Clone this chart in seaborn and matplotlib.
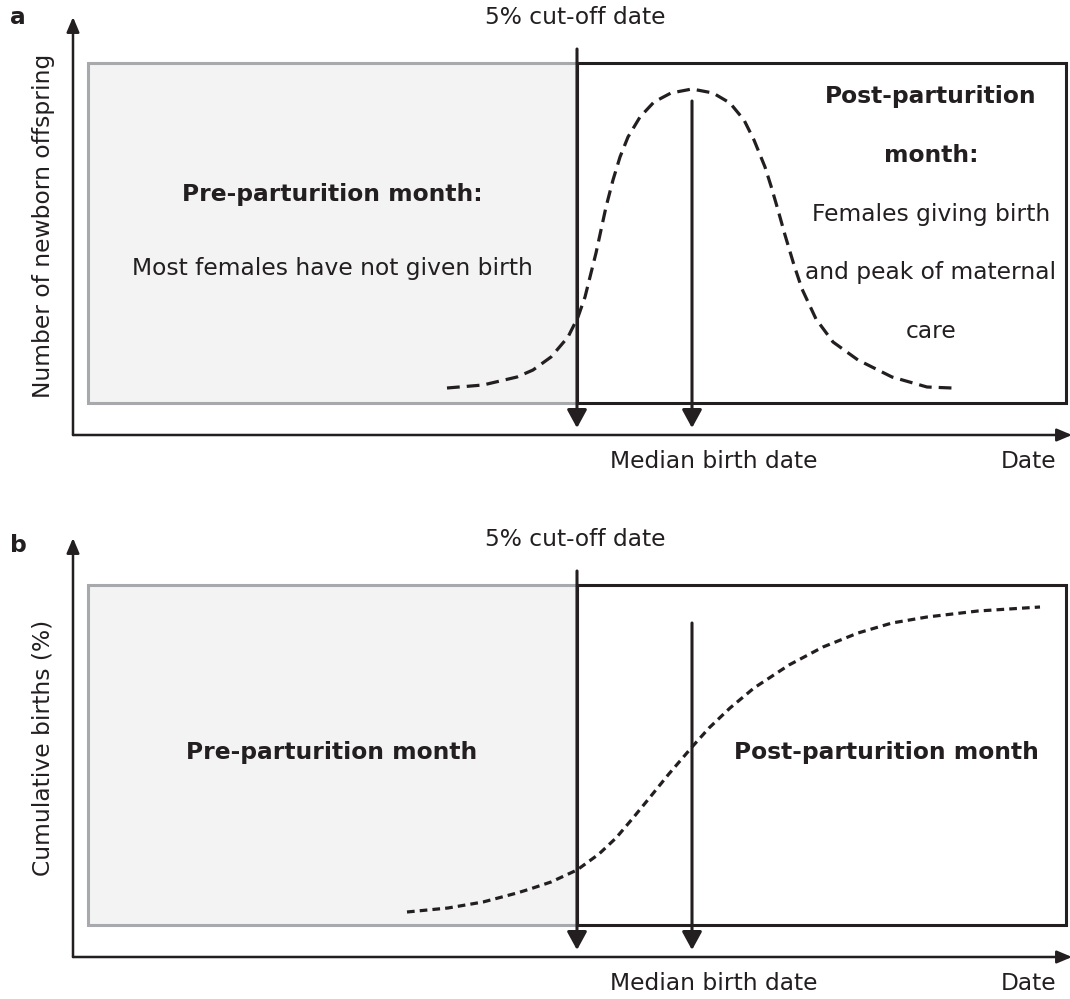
import matplotlib
matplotlib.use("Agg")
import matplotlib.pyplot as plt
from matplotlib.patches import Rectangle
import seaborn as sns

# Dates are in days along the x axis (0 .. 99.7), y values in arbitrary units
cutoff_date = 50.4
median_date = 61.9
window_start = 1.5
window_end = 99.3
window_low = 3.2
window_high = 37.2

# Panel a: newborn offspring per day (bell curve)
births_day = [37.4, 41.0, 44.4, 46.0, 47.8, 49.5, 50.5, 51.2, 51.7, 52.3, 52.8, 53.3,
              54.0, 54.7, 55.5, 56.7, 58.1, 59.8, 61.9, 64.0, 65.7, 67.1, 68.1, 69.2,
              69.8, 70.5, 71.2, 72.1, 72.9, 74.3, 76.0, 78.5, 81.9, 85.4, 87.9]
births_n = [4.7, 5.0, 5.8, 6.5, 7.8, 9.8, 11.8, 13.8, 15.8, 18.2, 20.5, 22.8,
            25.5, 27.8, 29.8, 31.8, 33.3, 34.2, 34.6, 34.2, 33.2, 31.5, 29.5, 26.8,
            24.9, 22.5, 20.0, 17.0, 14.6, 11.6, 9.3, 7.5, 5.8, 4.8, 4.7]

# Panel b: cumulative births (sigmoid)
cum_day = [33.4, 37.5, 41.0, 44.4, 45.7, 47.8, 50.4, 52.6, 54.3, 56.0, 57.8, 59.5,
           61.9, 63.6, 65.7, 68.1, 71.6, 75.0, 78.5, 81.9, 85.4, 90.5, 96.7]
cum_pct = [4.5, 4.9, 5.5, 6.4, 6.8, 7.5, 8.7, 10.3, 11.9, 13.9, 16.1, 18.2,
           21.0, 22.9, 24.9, 26.9, 29.2, 31.0, 32.4, 33.4, 34.0, 34.6, 35.0]

sns.set_theme(style="white")
plt.rcParams['font.family'] = ['DejaVu Sans']

ink = "#231f20"
fs = 16.8

fig = plt.figure(figsize=(10.70, 9.99), dpi=100)
ax_a = fig.add_axes([73 / 1070, 564 / 999, 997 / 1070, 418 / 999])
ax_b = fig.add_axes([73 / 1070, 42 / 999, 997 / 1070, 419 / 999])


def draw_frame(ax, ytop, ylabel):
    ax.set_xlim(0, 99.7)
    ax.set_ylim(0, ytop)
    for s in ax.spines.values():
        s.set_visible(False)
    ax.set_xticks([])
    ax.set_yticks([])
    ax.set_facecolor("none")
    ax.set_ylabel(ylabel, fontsize=fs, color=ink, labelpad=13)

    # axis arrows
    axis_arrow = dict(arrowstyle="-|>,head_length=0.9,head_width=0.38", color=ink,
                      lw=1.8, shrinkA=0, shrinkB=0, mutation_scale=10)
    ax.annotate("", xy=(0, ytop), xytext=(0, 0), arrowprops=axis_arrow,
                annotation_clip=False)
    ax.annotate("", xy=(99.9, 0), xytext=(0, 0), arrowprops=axis_arrow,
                annotation_clip=False)

    # pre- and post-parturition windows
    ax.add_patch(Rectangle((window_start, window_low), cutoff_date - window_start,
                           window_high - window_low, facecolor="#f2f3f2",
                           edgecolor="#a7a9ac", lw=2.2, zorder=1))
    ax.add_patch(Rectangle((cutoff_date, window_low), window_end - cutoff_date,
                           window_high - window_low, facecolor="none",
                           edgecolor=ink, lw=2.2, zorder=2))

    # cut-off and median arrows
    date_arrow = dict(arrowstyle="-|>,head_length=1.1,head_width=0.6", color=ink,
                      lw=2.2, shrinkA=0, shrinkB=0, mutation_scale=10)
    ax.annotate("", xy=(cutoff_date, 0.7), xytext=(cutoff_date, 38.6),
                arrowprops=date_arrow, zorder=3)
    ax.annotate("", xy=(median_date, 0.7), xytext=(median_date, 33.4),
                arrowprops=date_arrow, zorder=3)

    ax.text(50.2, ytop - 0.1, "5% cut-off date", fontsize=fs, color=ink,
            ha="center", va="center")
    ax.text(64.1, -2.7, "Median birth date", fontsize=fs, color=ink,
            ha="center", va="center")
    ax.text(95.6, -2.7, "Date", fontsize=fs, color=ink, ha="center", va="center")


# ---- panel a ----
draw_frame(ax_a, 41.8, "Number of newborn offspring")
sns.lineplot(x=births_day, y=births_n, ax=ax_a, color=ink, lw=2.3,
             linestyle=(0, (4.0, 2.2)), sort=False, zorder=4)
ax_a.text(25.9, 24.0, "Pre-parturition month:", fontsize=fs, color=ink,
          weight="bold", ha="center", va="center")
ax_a.text(25.9, 16.7, "Most females have not given birth", fontsize=fs, color=ink,
          ha="center", va="center")
post_lines = ["Post-parturition", "month:", "Females giving birth",
              "and peak of maternal", "care"]
post_y = [33.8, 28.0, 22.0, 16.3, 10.4]
for txt, yy, w in zip(post_lines, post_y, ["bold", "bold", "normal", "normal", "normal"]):
    ax_a.text(85.8, yy, txt, fontsize=fs, color=ink, weight=w,
              ha="center", va="center")

# ---- panel b ----
draw_frame(ax_b, 41.9, "Cumulative births (%)")
sns.lineplot(x=cum_day, y=cum_pct, ax=ax_b, color=ink, lw=2.3,
             linestyle=(0, (2.4, 1.6)), sort=False, zorder=4)
ax_b.text(25.9, 20.4, "Pre-parturition month", fontsize=fs, color=ink,
          weight="bold", ha="center", va="center")
ax_b.text(81.3, 20.4, "Post-parturition month", fontsize=fs, color=ink,
          weight="bold", ha="center", va="center")

fig.text(18 / 1070, 1 - 18 / 999, "a", fontsize=fs, weight="bold", color=ink,
         ha="center", va="center")
fig.text(18 / 1070, 1 - 545 / 999, "b", fontsize=fs, weight="bold", color=ink,
         ha="center", va="center")

fig.savefig("out.png", dpi=100)
